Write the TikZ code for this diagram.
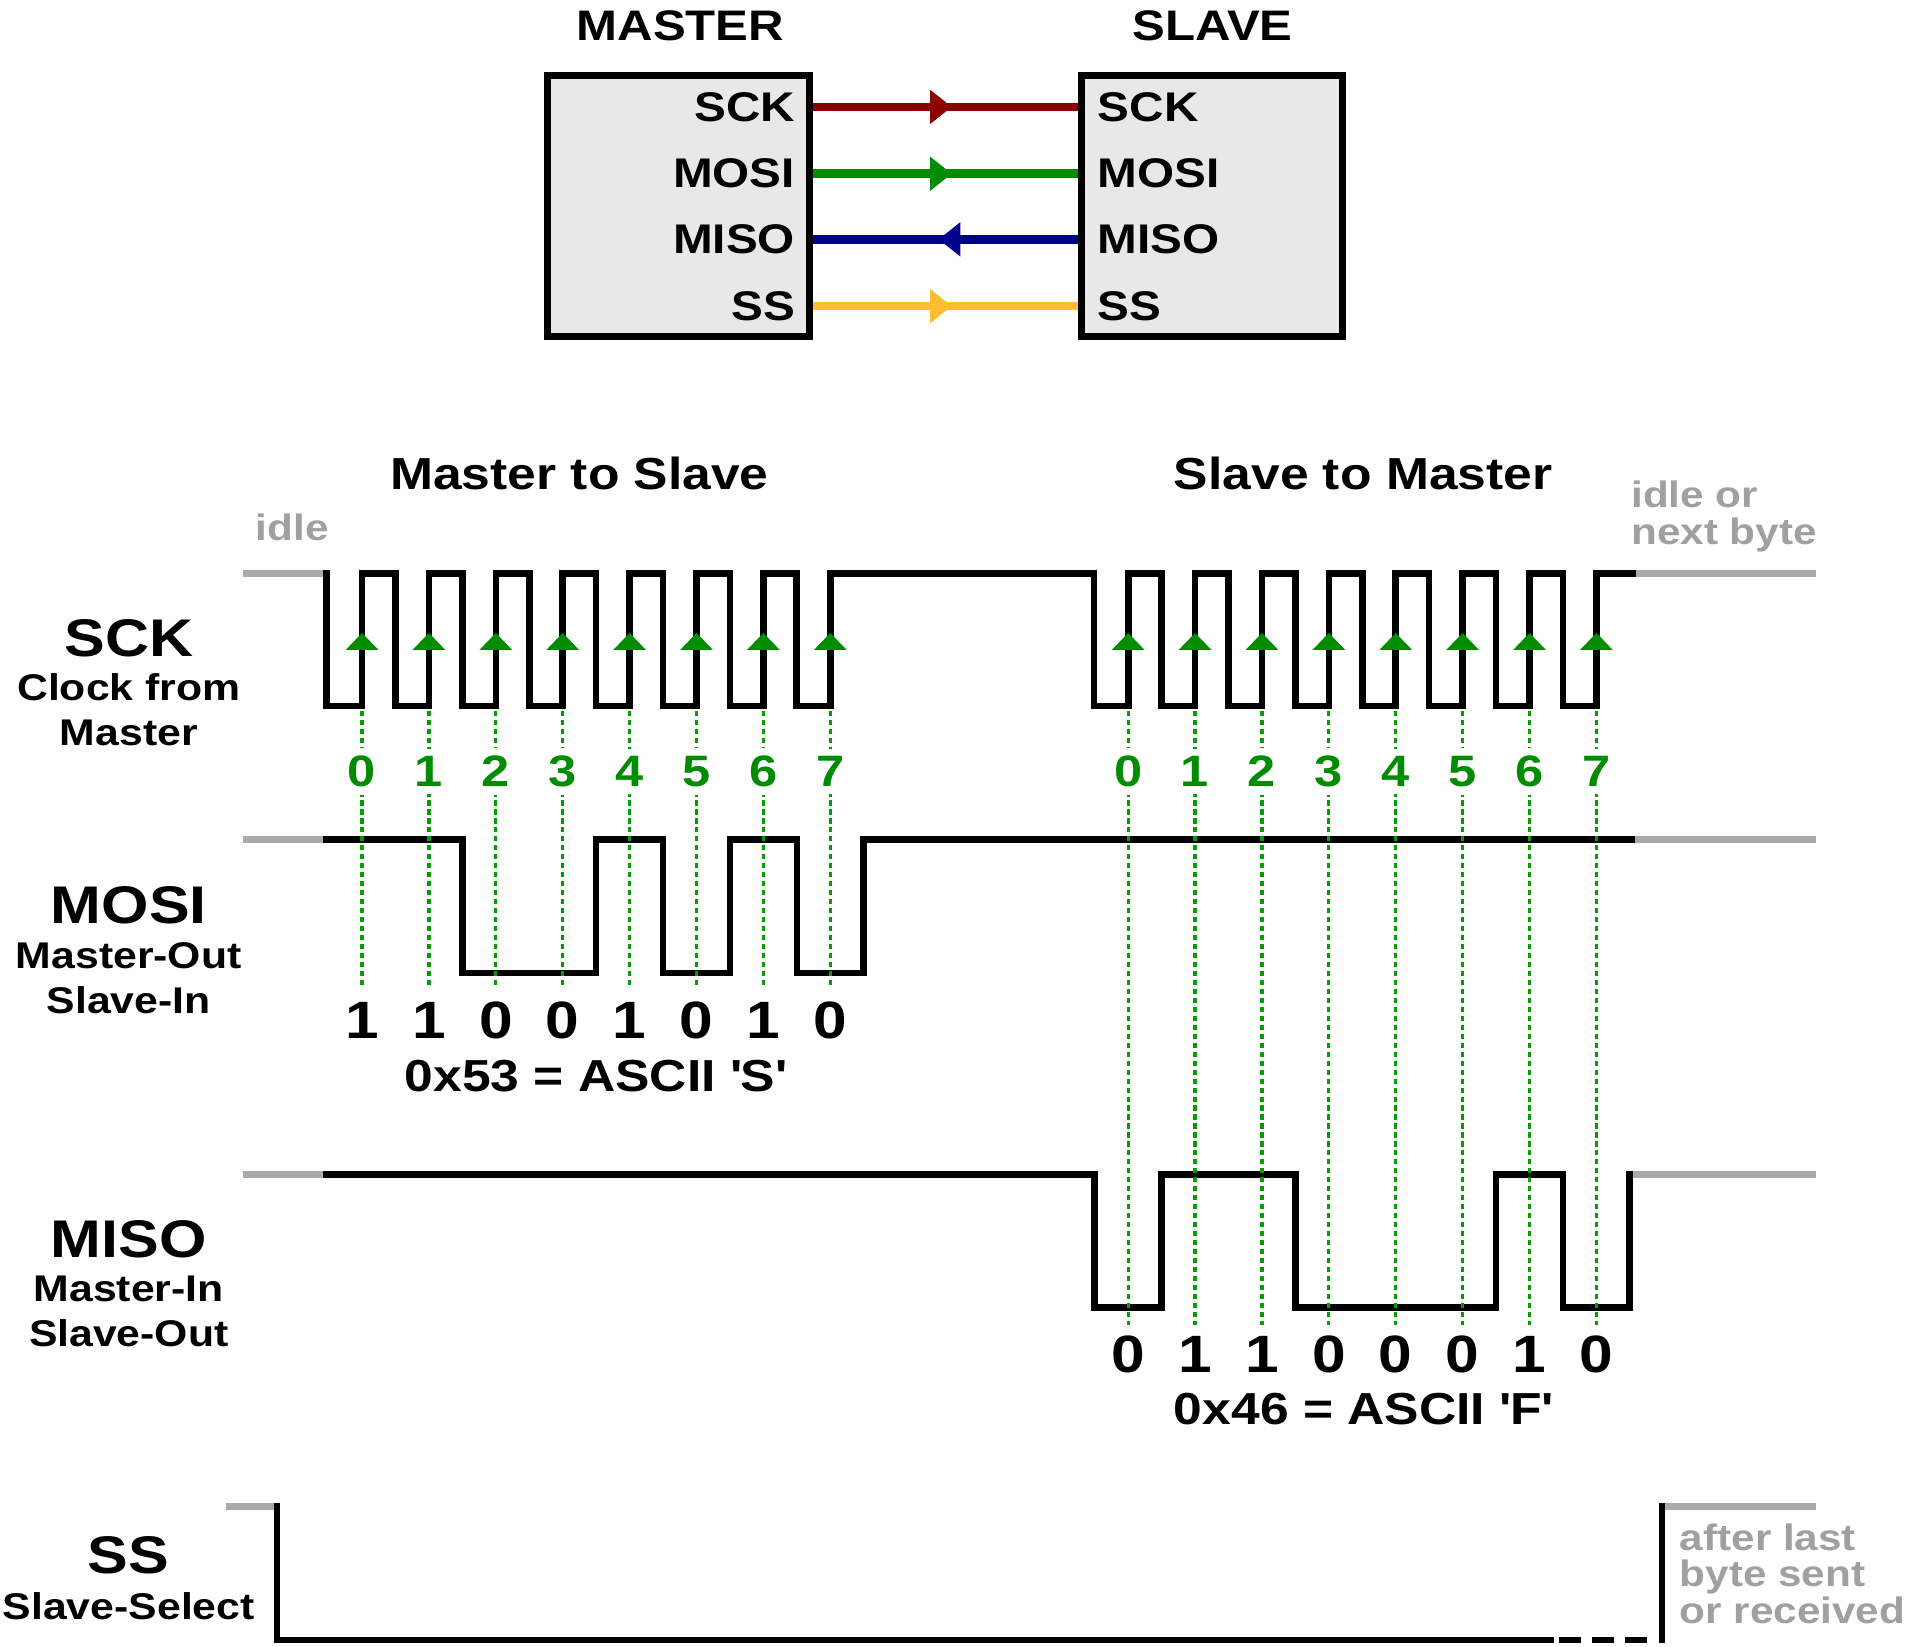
\documentclass[tikz,border=0pt]{standalone}
\usepackage{fontspec}
\setmainfont{Liberation Sans}[FakeStretch=1.15]
\usetikzlibrary{arrows.meta,decorations.markings}
\definecolor{sckred}{RGB}{140,0,0}
\definecolor{mosigreen}{RGB}{0,140,0}
\definecolor{misoblue}{RGB}{0,0,140}
\definecolor{ssyellow}{RGB}{255,190,50}
\definecolor{boxgray}{RGB}{232,232,232}
\definecolor{idlegray}{RGB}{170,170,170}
\definecolor{notegray}{RGB}{160,160,160}
\definecolor{bitgreen}{RGB}{0,140,0}
\definecolor{tickgreen}{RGB}{0,160,0}

\begin{document}
\begin{tikzpicture}[x=0.01cm,y=-0.01cm,
  every node/.style={inner sep=0pt,font=\bfseries},
  chip/.style={draw,line width=1.7pt,fill=boxgray,minimum width=2.15cm,minimum height=2.15cm},
  chipname/.style={font=\fontsize{10}{12}\selectfont\bfseries},
  pin/.style={font=\fontsize{9.7}{11}\selectfont\bfseries},
  link/.style={line width=2pt,postaction={decorate},
    decoration={markings,mark=at position 0.525 with {\arrow{Triangle[length=5.1pt,width=7.7pt]}}}},
  phase/.style={font=\fontsize{10.5}{12}\selectfont\bfseries},
  note/.style={font=\fontsize{8.6}{10.5}\selectfont\bfseries,text=notegray,anchor=base west},
  signame/.style={font=\fontsize{12.4}{14}\selectfont\bfseries},
  sigdesc/.style={font=\fontsize{8.7}{10.5}\selectfont\bfseries,align=center},
  wave/.style={line width=1.56pt,line cap=rect},
  idle/.style={line width=1.56pt,draw=idlegray},
  tick/.style={draw=tickgreen,line width=0.75pt,dash pattern=on 1.2pt off 0.9pt},
  clkarrow/.style={fill=bitgreen},
  bitnum/.style={font=\fontsize{10.3}{12}\selectfont\bfseries,text=bitgreen,fill=white,inner ysep=1.8pt},
  bitval/.style={font=\fontsize{12.3}{14}\selectfont\bfseries},
  hexval/.style={font=\fontsize{10.5}{12}\selectfont\bfseries}]
\useasboundingbox (0,0) rectangle (1568,1355);

\node[chip] (mbox) at (558.5,169.5) {};
\node[chip] (sbox) at (997.5,169.5) {};
\node[chipname] (mname) at (560,21) {MASTER};
\node[chipname] (sname) at (998,21) {SLAVE};
\node[pin,anchor=east] (msck) at (655,88) {SCK};
\node[pin,anchor=east] (mmosi) at (655,143) {MOSI};
\node[pin,anchor=east] (mmiso) at (655,197) {MISO};
\node[pin,anchor=east] (mss) at (655,252) {SS};
\node[pin,anchor=west] (ssck) at (903,88) {SCK};
\node[pin,anchor=west] (smosi) at (903,143) {MOSI};
\node[pin,anchor=west] (smiso) at (903,197) {MISO};
\node[pin,anchor=west] (sss) at (903,252) {SS};
\draw[link,sckred] (mbox.east |- msck) -- (sbox.west |- ssck);
\draw[link,mosigreen] (mbox.east |- mmosi) -- (sbox.west |- smosi);
\draw[link,misoblue] (sbox.west |- smiso) -- (mbox.east |- mmiso);
\draw[link,ssyellow] (mbox.east |- mss) -- (sbox.west |- sss);

\node[phase] (mtos) at (477,390) {Master to Slave};
\node[phase] (stom) at (1122,390) {Slave to Master};
\node[note] (idlel) at (210,445) {idle};
\node[note] (idler1) at (1342,418) {idle or};
\node[note] (idler2) at (1342,448) {next byte};
\node[note] (ssend1) at (1382,1276) {after last};
\node[note] (ssend2) at (1382,1306) {byte sent};
\node[note] (ssend3) at (1382,1336) {or received};

\node[signame] (sckname) at (106,525) {SCK};
\node[sigdesc] (sckdesc) at (106,584.5) {Clock from\\Master};
\node[signame] (mosiname) at (106,745) {MOSI};
\node[sigdesc] (mosidesc) at (106,805) {Master-Out\\Slave-In};
\node[signame] (misoname) at (106,1020) {MISO};
\node[sigdesc] (misodesc) at (106,1079.5) {Master-In\\Slave-Out};
\node[signame] (ssname) at (105.5,1280.5) {SS};
\node[sigdesc] (ssdesc) at (106,1322) {Slave-Select};

\draw[idle] (200,472) -- (269,472) (1344,472) -- (1495,472);
\draw[wave] (269,472) -- (269,581)
  \foreach \k in {0,...,6} { -- ({298+55.06*\k},581) -- ({298+55.06*\k},472) -- ({325.5+55.06*\k},472) -- ({325.5+55.06*\k},581) }
  -- (683.4,581) -- (683.4,472) -- (900.6,472) -- (900.6,581)
  \foreach \k in {0,...,6} { -- ({928.6+55.06*\k},581) -- ({928.6+55.06*\k},472) -- ({956.1+55.06*\k},472) -- ({956.1+55.06*\k},581) }
  -- (1314,581) -- (1314,472) -- (1344,472);

\draw[idle] (200,691) -- (269,691) (1343,691) -- (1495,691);
\draw[wave] (269,691) -- (380.6,691) -- (380.6,801) -- (490.7,801) -- (490.7,691) -- (545.8,691) -- (545.8,801)
  -- (600.8,801) -- (600.8,691) -- (655.9,691) -- (655.9,801) -- (710.9,801) -- (710.9,691) -- (1343,691);

\draw[idle] (200,967) -- (269,967) (1342,967) -- (1495,967);
\draw[wave] (269,967) -- (901.1,967) -- (901.1,1076) -- (956.1,1076) -- (956.1,967) -- (1066.2,967) -- (1066.2,1076)
  -- (1231.4,1076) -- (1231.4,967) -- (1286.5,967) -- (1286.5,1076) -- (1341.5,1076) -- (1341.5,967);

\draw[idle] (186,1240) -- (228,1240) (1368,1240) -- (1495,1240);
\draw[wave] (228,1240) -- (228,1350) -- (1276,1350);
\draw[wave,line cap=butt,dash pattern=on 5.1pt off 2.7pt] (1283,1350) -- (1356,1350);
\draw[wave] (1368,1350) -- (1368,1240);

\foreach \k in {0,...,7} {
  \draw[tick] ({298+55.06*\k},585) -- ({298+55.06*\k},812);
  \draw[tick] ({928.6+55.06*\k},585) -- ({928.6+55.06*\k},1091);
  \fill[clkarrow] ({298+55.06*\k-13.5},535) -- ({298+55.06*\k},521) -- ({298+55.06*\k+13.5},535) -- cycle;
  \fill[clkarrow] ({928.6+55.06*\k-13.5},535) -- ({928.6+55.06*\k},521) -- ({928.6+55.06*\k+13.5},535) -- cycle;
  \node[bitnum] (lnum\k) at ({298+55.06*\k},635) {\k};
  \node[bitnum] (rnum\k) at ({928.6+55.06*\k},635) {\k};
}
\foreach \b [count=\k from 0] in {1,1,0,0,1,0,1,0}
  \node[bitval] (mosibit\k) at ({298+55.06*\k},840) {\b};
\foreach \b [count=\k from 0] in {0,1,1,0,0,0,1,0}
  \node[bitval] (misobit\k) at ({928.6+55.06*\k},1115) {\b};
\node[hexval] (mosihex) at (490,886) {0x53 = ASCII \textquotesingle S\textquotesingle};
\node[hexval] (misohex) at (1122,1160) {0x46 = ASCII \textquotesingle F\textquotesingle};
\end{tikzpicture}
\end{document}
